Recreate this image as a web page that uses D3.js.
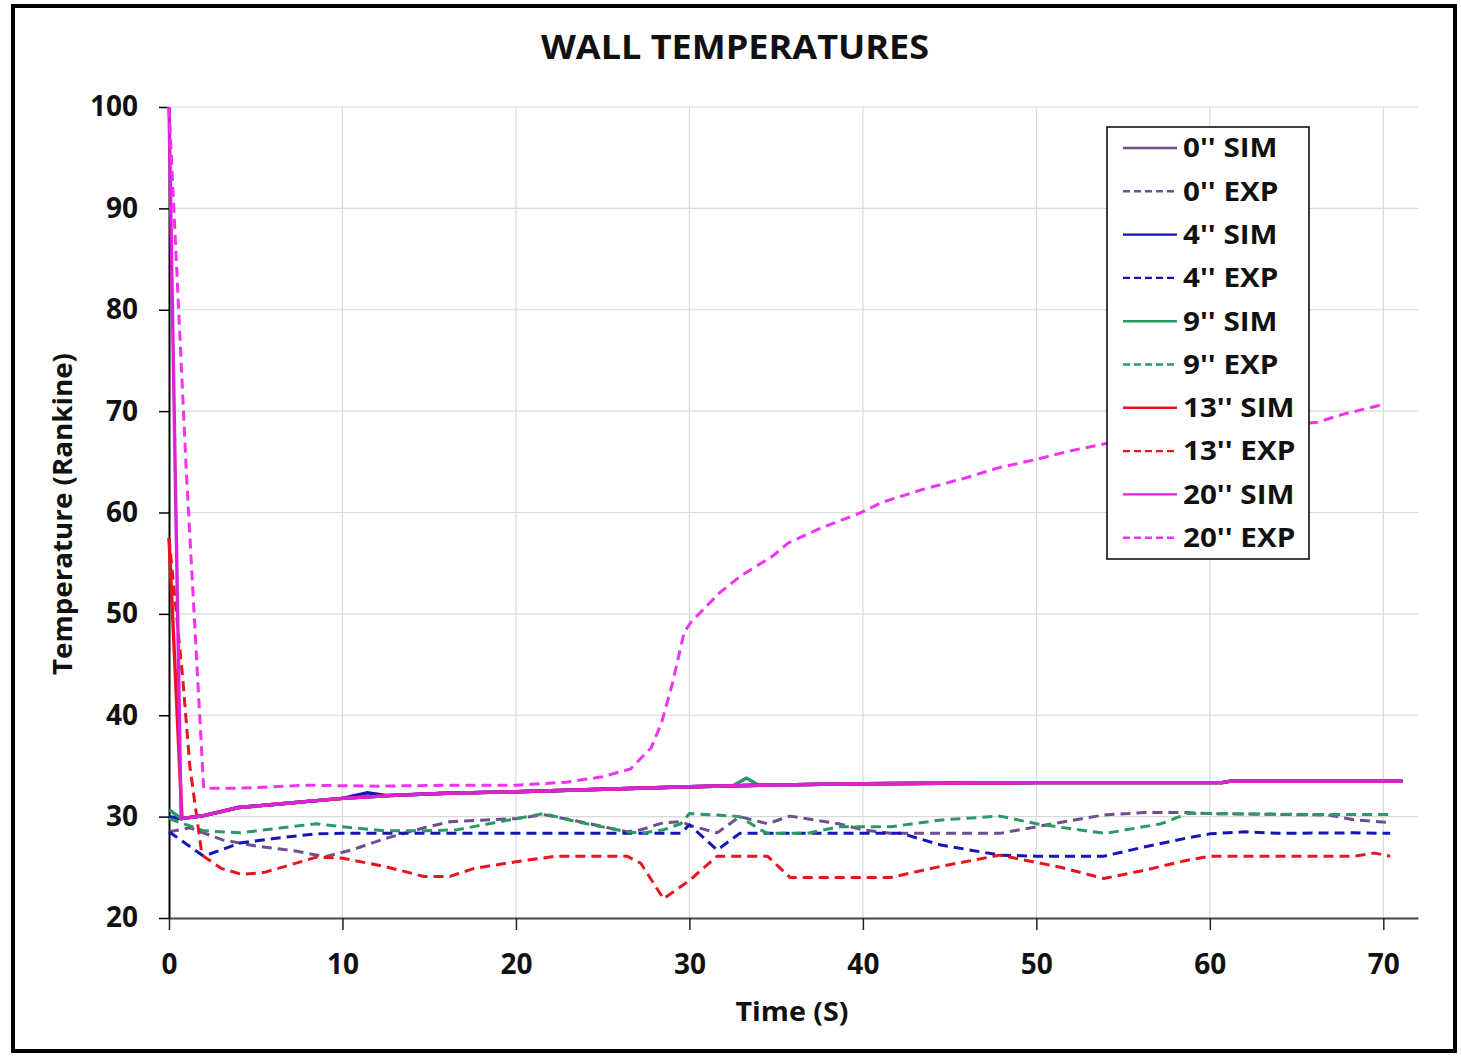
<!DOCTYPE html>
<html>
<head>
<meta charset="utf-8">
<script src="https://cdn.jsdelivr.net/npm/d3@7"></script>
<style>
  body { margin: 0; background: #fff; }
  svg text { font-family: "Open Sans", "DejaVu Sans", sans-serif; font-weight: bold; fill: #111; }
</style>
</head>
<body>
<div id="chart"></div>
<script>
// Axis ticks
const timeTicks = [0, 10, 20, 30, 40, 50, 60, 70];
const tempTicks = [20, 30, 40, 50, 60, 70, 80, 90, 100];

const seriesNames = ["0'' SIM", "0'' EXP", "4'' SIM", "4'' EXP", "9'' SIM", "9'' EXP",
                     "13'' SIM", "13'' EXP", "20'' SIM", "20'' EXP"];

// [time (s), temperature (R)]
const sim0 = [[0,29.9],[0.7,29.8],[2,30.1],[4,30.9],[6,31.2],[8,31.5],[10,31.8],[13,32.1],[16,32.3],
  [20,32.45],[25,32.7],[30,32.95],[34,33.1],[40,33.25],[50,33.35],[60.7,33.35],[61.2,33.5],[71.1,33.5]];
const exp0 = [[0,28.5],[1.2,28.9],[3.1,27.7],[5,27.1],[7.3,26.6],[9,26.05],[10.5,26.7],[12.4,27.8],
  [14.7,28.9],[16.2,29.5],[20,29.8],[21.6,30.2],[24,29.4],[26.4,28.5],[27.2,28.7],[28.5,29.4],[29.5,29.5],
  [30.1,29.1],[31.6,28.4],[32.9,30.0],[34.5,29.3],[35.8,30.05],[38.6,29.3],[40,28.7],[41.6,28.35],
  [47.9,28.35],[50,29.0],[52.6,29.8],[53.9,30.16],[56.2,30.4],[58.7,30.4],[60,30.3],[66.8,30.16],
  [68.3,29.7],[70.4,29.4]];
const sim4 = [[0,30.0],[0.7,29.8],[2,30.1],[4,30.9],[6,31.2],[8,31.5],[10,31.8],[11.4,32.35],[12.5,32.1],
  [16,32.3],[20,32.45],[25,32.7],[30,32.95],[34,33.1],[40,33.25],[50,33.35],[60.7,33.35],[61.2,33.5],[71.1,33.5]];
const exp4 = [[0,28.5],[2,26.1],[4.1,27.4],[6.3,27.9],[8.5,28.3],[10,28.35],[20,28.35],[29.5,28.35],
  [30,29.2],[31.6,26.7],[32.9,28.35],[42.2,28.35],[44.5,27.2],[47.9,26.2],[50,26.1],[53.9,26.1],
  [56.2,27.0],[58.7,27.9],[60,28.3],[62,28.5],[63.9,28.35],[68.3,28.4],[70.4,28.35]];
const sim9 = [[0,30.7],[0.7,29.8],[2,30.1],[4,30.9],[6,31.2],[8,31.5],[10,31.8],[13,32.1],[16,32.3],
  [20,32.45],[25,32.7],[30,32.95],[32.5,33.05],[33.3,33.8],[34,33.1],[40,33.25],[50,33.35],[60.7,33.35],
  [61.2,33.5],[71.1,33.5]];
const exp9 = [[0,29.8],[2,28.6],[4.1,28.4],[6.5,28.9],[8.5,29.3],[10,29.0],[12.4,28.6],[14.7,28.6],
  [16.6,28.7],[20,29.8],[21.6,30.3],[23.5,29.5],[26.4,28.5],[27.2,28.35],[28.5,28.7],[29.5,29.3],
  [30,30.3],[31.6,30.16],[32.9,30.0],[34.1,28.7],[34.5,28.35],[36.8,28.35],[38.6,29.0],[41.6,29.0],
  [44.5,29.67],[47.9,30.05],[50,29.3],[52,28.8],[54,28.35],[57.2,29.3],[58.7,30.3],[60,30.3],
  [66.8,30.2],[70.4,30.2]];
const sim13 = [[0,57.5],[0.75,29.8],[2,30.1],[4,30.9],[6,31.2],[8,31.5],[10,31.8],[13,32.1],[16,32.3],
  [20,32.45],[25,32.7],[30,32.95],[34,33.1],[40,33.25],[50,33.35],[60.7,33.35],[61.2,33.5],[71.1,33.5]];
const exp13 = [[0,57.5],[0.8,43.5],[1.2,35.0],[1.9,26.2],[3,24.9],[4.2,24.3],[5.5,24.5],[8.5,26.0],
  [10,25.9],[12.4,25.1],[14.7,24.1],[16.2,24.1],[17.6,24.9],[20,25.55],[22.3,26.1],[26.4,26.1],
  [27.2,25.4],[28.5,21.9],[30,23.7],[31.6,26.1],[34.5,26.1],[35.8,24.0],[41.6,24.0],[44.5,25.1],
  [47.9,26.2],[51.4,25.0],[53.9,23.9],[56.2,24.7],[58.7,25.7],[60,26.1],[68.3,26.1],[69.5,26.4],[70.4,26.1]];
const sim20 = [[0,100],[0.7,29.8],[2,30.1],[4,30.9],[6,31.2],[8,31.5],[10,31.8],[13,32.1],[16,32.3],
  [20,32.45],[25,32.7],[30,32.95],[34,33.1],[40,33.25],[50,33.35],[60.7,33.35],[61.2,33.5],[71.1,33.5]];
const exp20 = [[0,100],[1,64],[2,32.8],[4,32.8],[8,33.1],[12,33.0],[16.2,33.1],[20,33.1],[22.9,33.4],
  [24.9,33.9],[26.6,34.7],[27.8,36.8],[28.4,39.3],[29.0,43.0],[29.7,48.2],[30.1,49.2],[31.75,52.1],
  [33,53.8],[34.8,55.7],[35.7,57.0],[37.5,58.4],[39.9,60.0],[41.1,61.0],[43.5,62.3],[45.9,63.4],
  [47.8,64.4],[49.9,65.2],[52,66.1],[54,66.8],[57,67.5],[60,68.1],[63,68.5],[66.2,68.9],[67.7,69.7],[70.1,70.7]];

function drawWallChart(containerId) {
    const W = 1461, H = 1056;
    const margin = { top: 107, right: 43, bottom: 138, left: 169 };
    const width = W - margin.left - margin.right;
    const height = H - margin.top - margin.bottom;

    const svg = d3.select(`#${containerId}`)
        .append("svg")
        .attr("width", W)
        .attr("height", H);

    // outer frame
    svg.append("rect")
        .attr("x", 13).attr("y", 6)
        .attr("width", 1442).attr("height", 1045)
        .attr("fill", "#fff")
        .attr("stroke", "#000")
        .attr("stroke-width", 4);

    const g = svg.append("g")
        .attr("transform", `translate(${margin.left},${margin.top})`);

    const x = d3.scaleLinear().domain([0, 72]).range([0, width]);
    const y = d3.scaleLinear().domain([20, 100]).range([height, 0]);

    // grid
    g.append("g")
        .selectAll("line")
        .data(tempTicks.slice(1))
        .join("line")
        .attr("x1", 0).attr("x2", width)
        .attr("y1", d => y(d)).attr("y2", d => y(d))
        .attr("stroke", "#d9d9d9").attr("stroke-width", 1.2);
    g.append("g")
        .selectAll("line")
        .data(timeTicks.slice(1))
        .join("line")
        .attr("x1", d => x(d)).attr("x2", d => x(d))
        .attr("y1", 0).attr("y2", height)
        .attr("stroke", "#d9d9d9").attr("stroke-width", 1.2);

    // axes
    const yAxis = g.append("g")
        .call(d3.axisLeft(y).tickValues(tempTicks).tickSize(10).tickPadding(21).tickSizeOuter(0));
    yAxis.select(".domain").attr("stroke", "#000").attr("stroke-width", 2);
    yAxis.selectAll(".tick line").attr("stroke", "#000").attr("stroke-width", 1.5);
    yAxis.selectAll("text").style("font-size", "28px").attr("fill", "#111");

    const xAxis = g.append("g")
        .attr("transform", `translate(0,${height})`)
        .call(d3.axisBottom(x).tickValues(timeTicks).tickSize(12).tickPadding(24).tickSizeOuter(0));
    xAxis.select(".domain").attr("stroke", "#444").attr("stroke-width", 2);
    xAxis.selectAll(".tick line").attr("stroke", "#222").attr("stroke-width", 1.5);
    xAxis.selectAll("text").style("font-size", "28px").attr("fill", "#111");

    // series
    const series = [
        { name: seriesNames[0], values: sim0, color: "#6f4f8f", dash: null },
        { name: seriesNames[1], values: exp0, color: "#6f4f8f", dash: "10,6" },
        { name: seriesNames[2], values: sim4, color: "#1414b8", dash: null },
        { name: seriesNames[3], values: exp4, color: "#1414b8", dash: "10,6" },
        { name: seriesNames[4], values: sim9, color: "#2a9a62", dash: null },
        { name: seriesNames[5], values: exp9, color: "#2a9a62", dash: "10,6" },
        { name: seriesNames[6], values: sim13, color: "#e8141e", dash: null },
        { name: seriesNames[7], values: exp13, color: "#e8141e", dash: "10,6" },
        { name: seriesNames[8], values: sim20, color: "#dc22d8", dash: null },
        { name: seriesNames[9], values: exp20, color: "#f033ee", dash: "10,6" }
    ];

    const line = d3.line()
        .x(d => x(d[0]))
        .y(d => y(d[1]));

    series.forEach(s => {
        g.append("path")
            .datum(s.values)
            .attr("d", line)
            .attr("fill", "none")
            .attr("stroke", s.color)
            .attr("stroke-width", s.dash ? 3 : 3.4)
            .attr("stroke-linejoin", "round")
            .attr("stroke-dasharray", s.dash);
    });

    // title
    svg.append("text")
        .attr("x", 735).attr("y", 59)
        .attr("text-anchor", "middle")
        .attr("textLength", 388)
        .attr("lengthAdjust", "spacingAndGlyphs")
        .style("font-size", "34px")
        .text("WALL TEMPERATURES");

    // axis titles
    svg.append("text")
        .attr("transform", "translate(72,514) rotate(-90)")
        .attr("text-anchor", "middle")
        .attr("textLength", 322)
        .attr("lengthAdjust", "spacingAndGlyphs")
        .style("font-size", "27px")
        .text("Temperature (Rankine)");

    svg.append("text")
        .attr("x", 792).attr("y", 1021)
        .attr("text-anchor", "middle")
        .attr("textLength", 113)
        .attr("lengthAdjust", "spacingAndGlyphs")
        .style("font-size", "27px")
        .text("Time (S)");

    // legend
    const legend = svg.append("g").attr("transform", "translate(1107,127)");
    legend.append("rect")
        .attr("width", 202).attr("height", 432)
        .attr("fill", "#fff")
        .attr("stroke", "#111").attr("stroke-width", 1.6);

    const row = legend.selectAll("g.item")
        .data(series)
        .join("g")
        .attr("class", "item")
        .attr("transform", (d, i) => `translate(0,${21 + i * 43.3})`);

    row.append("line")
        .attr("x1", 16).attr("x2", 70)
        .attr("stroke", d => d.color)
        .attr("stroke-width", 2.4)
        .attr("stroke-dasharray", d => d.dash ? "7,4" : null);

    row.append("text")
        .attr("x", 0).attr("y", 0)
        .attr("dy", "0.36em")
        .attr("transform", "translate(76,0) scale(1.14,1)")
        .style("font-size", "26px")
        .text(d => d.name);
}

drawWallChart("chart");
</script>
</body>
</html>
